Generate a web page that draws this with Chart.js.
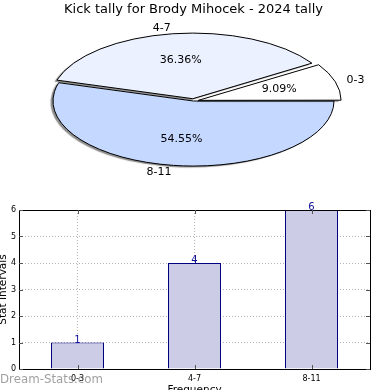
<!DOCTYPE html>
<html>
<head>
<meta charset="utf-8">
<script src="https://cdn.jsdelivr.net/npm/chart.js@4.4.1/dist/chart.umd.min.js"></script>
<style>
  html, body { margin: 0; padding: 0; background: #fff; overflow: hidden; width: 390px; height: 390px; }
  #pieChart { position: absolute; left: 0; top: 0; }
  #barChart { position: absolute; left: 0; top: 195px; }
</style>
</head>
<body>
<canvas id="pieChart" width="390" height="195"></canvas>
<canvas id="barChart" width="390" height="205"></canvas>
<script>
'use strict';

// ── data ──────────────────────────────────────────────
var chartTitle  = 'Kick tally for Brody Mihocek - 2024 tally';
var categories  = ['0-3', '4-7', '8-11'];
var counts      = [1, 4, 6];
var sliceColors = ['#FFFFFF', '#EBF1FF', '#C5D8FF'];
var exploded    = [true, true, false];
var yTicks      = [0, 1, 2, 3, 4, 5, 6];
var xTitle      = 'Frequency';
var yTitle      = 'Stat Intervals';
var watermark   = 'Dream-Stats.com';

Chart.defaults.font.family = '"DejaVu Sans", sans-serif';
Chart.defaults.color = '#000';

var SQUASH = 0.463;          // pie is drawn as a flattened ellipse
var total = counts.reduce(function (a, b) { return a + b; }, 0);

/* ── Pie (top half) ─────────────────────────────────── */
// matplotlib goes counter-clockwise from 3 o'clock; chart.js goes clockwise,
// so feed the slices in reverse order starting at 3 o'clock.
var pieOrder = [2, 1, 0];

var squashPie = {
    id: 'squashPie',
    beforeDatasetsDraw: function (chart) {
        var ctx = chart.ctx;
        var cy = chart.getDatasetMeta(0).data[0].y;
        var dpr = chart.currentDevicePixelRatio;
        ctx.save();
        ctx.translate(0, cy * (1 - SQUASH));
        ctx.scale(1, SQUASH);
        ctx.shadowColor = 'rgba(0,0,0,0.45)';
        ctx.shadowOffsetX = -2.5;
        ctx.shadowOffsetY = 1.5;
        ctx.shadowBlur = 1;
        // stroke outlines with an unsquashed pen so edges stay 1px everywhere
        ctx.stroke = function () {
            ctx.save();
            ctx.setTransform(dpr, 0, 0, dpr, 0, 0);
            ctx.shadowColor = 'rgba(0,0,0,0)';
            CanvasRenderingContext2D.prototype.stroke.call(ctx);
            ctx.restore();
        };
    },
    afterDatasetsDraw: function (chart) {
        var ctx = chart.ctx;
        delete ctx.stroke;
        ctx.restore();

        ctx.save();
        ctx.fillStyle = '#000';
        ctx.font = '11px "DejaVu Sans"';
        ctx.textBaseline = 'middle';
        chart.getDatasetMeta(0).data.forEach(function (arc, i) {
            var mid = (arc.startAngle + arc.endAngle) / 2;
            var d = (arc.options.offset || 0) / 4;
            var r = arc.outerRadius;
            var ox = arc.x + Math.cos(mid) * d;
            var oy = arc.y + Math.sin(mid) * d;
            var sy = function (y) { return arc.y + (y - arc.y) * SQUASH; };

            var lx = ox + Math.cos(mid) * r * 1.1;
            var ly = sy(oy + Math.sin(mid) * r * 1.1);
            ctx.textAlign = Math.cos(mid) < 0 ? 'right' : 'left';
            ctx.fillText(chart.data.labels[i], lx, ly);

            var px = ox + Math.cos(mid) * r * 0.6;
            var py = sy(oy + Math.sin(mid) * r * 0.6);
            var v = chart.data.datasets[0].data[i];
            ctx.textAlign = 'center';
            ctx.fillText((v / total * 100).toFixed(2) + '%', px, py);
        });
        ctx.restore();
    }
};

new Chart(document.getElementById('pieChart'), {
    type: 'pie',
    data: {
        labels: pieOrder.map(function (i) { return categories[i]; }),
        datasets: [{
            data: pieOrder.map(function (i) { return counts[i]; }),
            backgroundColor: pieOrder.map(function (i) { return sliceColors[i]; }),
            offset: pieOrder.map(function (i) { return exploded[i] ? 20 : 0; }),
            borderColor: '#000',
            borderWidth: 1,
            clip: false
        }]
    },
    options: {
        responsive: false,
        animation: false,
        events: [],
        rotation: 90,
        radius: 140.5,
        layout: { padding: { top: 0, right: 3, bottom: 10.6, left: 0 } },
        plugins: {
            legend: { display: false },
            tooltip: { enabled: false },
            title: {
                display: true,
                text: chartTitle,
                color: '#000',
                font: { size: 13, weight: 'normal' },
                padding: { top: 2, bottom: 0 }
            }
        }
    },
    plugins: [squashPie]
});

/* ── Bar (bottom half) ──────────────────────────────── */
var barDecor = {
    id: 'barDecor',
    afterDatasetsDraw: function (chart) {
        var ctx = chart.ctx;
        ctx.save();
        ctx.fillStyle = '#10109A';
        ctx.font = '10px "DejaVu Sans"';
        ctx.textAlign = 'center';
        ctx.textBaseline = 'alphabetic';
        chart.getDatasetMeta(0).data.forEach(function (bar, i) {
            ctx.fillText(String(counts[i]), bar.x, bar.y);
        });
        ctx.restore();
    },
    afterDraw: function (chart) {
        var ctx = chart.ctx, a = chart.chartArea;
        var xs = chart.scales.x, ys = chart.scales.y;
        ctx.save();
        ctx.strokeStyle = '#000';
        ctx.lineWidth = 1;
        ctx.strokeRect(a.left + 0.5, a.top + 0.5, a.width, a.height);

        // inward tick marks on all four sides
        ctx.strokeStyle = '#555';
        ctx.beginPath();
        ys.ticks.forEach(function (t, i) {
            var y = Math.round(ys.getPixelForTick(i)) + 0.5;
            ctx.moveTo(a.left, y);  ctx.lineTo(a.left + 4, y);
            ctx.moveTo(a.right, y); ctx.lineTo(a.right - 4, y);
        });
        xs.ticks.forEach(function (t, i) {
            var x = Math.round(xs.getPixelForTick(i)) + 0.5;
            ctx.moveTo(x, a.bottom); ctx.lineTo(x, a.bottom - 4);
            ctx.moveTo(x, a.top);    ctx.lineTo(x, a.top + 4);
        });
        ctx.stroke();

        ctx.fillStyle = 'rgba(120,120,120,0.7)';
        ctx.font = '11.8px "DejaVu Sans"';
        ctx.textAlign = 'left';
        ctx.textBaseline = 'alphabetic';
        ctx.fillText(watermark, 0, 188);
        ctx.restore();
    }
};

var gridStyle = { color: '#B4B4B4', lineWidth: 1, drawTicks: false };

new Chart(document.getElementById('barChart'), {
    type: 'bar',
    data: {
        labels: categories,
        datasets: [{
            data: counts,
            backgroundColor: '#CCCCE6',
            borderColor: '#000080',
            borderWidth: 1,
            categoryPercentage: 1,
            barPercentage: 0.453
        }]
    },
    options: {
        responsive: false,
        animation: false,
        events: [],
        layout: { padding: { top: 15, right: 20, bottom: 0, left: 0 } },
        plugins: {
            legend: { display: false },
            tooltip: { enabled: false }
        },
        scales: {
            x: {
                z: 1,
                grid: Object.assign({ offset: false }, gridStyle),
                border: { display: false, dash: [1, 2] },
                ticks: { font: { size: 8 }, color: '#000', padding: 5 },
                title: {
                    display: true, text: xTitle, color: '#000',
                    font: { size: 10.5 }, padding: { top: 0, bottom: 3.4 }
                },
                afterFit: function (s) { s.height = 31; }
            },
            y: {
                z: 1,
                min: yTicks[0],
                max: yTicks[yTicks.length - 1],
                afterBuildTicks: function (s) {
                    s.ticks = yTicks.map(function (v) { return { value: v }; });
                },
                grid: gridStyle,
                border: { display: false, dash: [1, 2] },
                ticks: { font: { size: 8 }, color: '#000', padding: 3 },
                title: {
                    display: true, text: yTitle, color: '#000',
                    font: { size: 10.5 }, padding: { top: -3, bottom: 0 }
                },
                afterFit: function (s) { s.width = 19; }
            }
        }
    },
    plugins: [barDecor]
});
</script>
</body>
</html>
